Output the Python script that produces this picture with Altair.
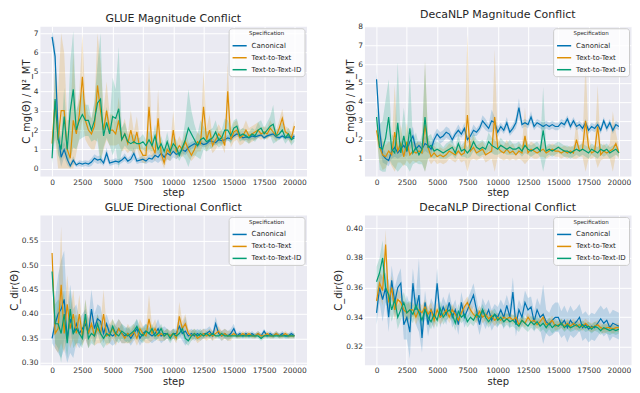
import altair as alt
import pandas as pd

STEP = 250
SPECS = ["Canonical", "Text-to-Text", "Text-to-Text-ID"]
COLORS = ["#0173B2", "#DE8F05", "#029E73"]
X_TICKS = [0, 2500, 5000, 7500, 10000, 12500, 15000, 17500, 20000]

# ---------------- GLUE Magnitude Conflict ----------------
glue_mag_can = [6.8, 5.8, 1.8, 0.6, 1.0, 0.5, 0.15, 0.45, 0.2, 0.3,
                0.25, 0.3, 0.25, 0.35, 0.55, 0.45, 0.5, 0.3, 0.8, 0.3,
                0.35, 0.4, 0.35, 0.45, 0.6, 0.4, 0.5, 0.8, 0.4, 0.45,
                0.5, 0.4, 0.55, 0.5, 0.7, 0.6, 0.8, 0.6, 0.8, 0.7,
                0.9, 0.75, 0.8, 1.0, 0.9, 1.1, 1.2, 1.3, 1.2, 1.35,
                1.25, 1.3, 1.45, 1.4, 1.35, 1.5, 1.45, 1.5, 1.6, 1.55,
                1.7, 1.8, 1.75, 1.6, 1.65, 1.6, 1.7, 1.65, 1.7, 1.75,
                1.6, 1.7, 1.75, 1.8, 1.65, 1.6, 1.7, 1.6, 1.65, 1.55,
                1.7]
glue_mag_t2t = [1.3, 3.5, 1.5, 3.0, 3.0, 1.0, 0.55, 2.5, 1.8, 2.8,
                4.75, 2.5, 2.0, 1.8, 2.2, 4.3, 3.0, 2.0, 3.0, 2.0,
                2.0, 1.8, 2.5, 1.5, 1.8, 1.3, 2.0, 1.3, 1.9, 1.0,
                0.7, 0.7, 3.2, 1.2, 0.8, 2.6, 0.8, 0.3, 1.0, 0.8,
                2.0, 0.9, 1.2, 1.0, 1.4, 1.0, 0.7, 1.0, 1.4, 1.3,
                3.2, 1.5, 2.0, 1.2, 1.5, 1.8, 1.6, 1.2, 4.0, 1.5,
                1.9, 2.0, 1.6, 1.7, 2.0, 1.7, 1.8, 1.9, 2.0, 1.8,
                1.9, 1.8, 2.1, 1.9, 1.7, 2.1, 2.6, 1.9, 1.8, 1.6,
                2.2]
glue_mag_t2tid = [0.55, 3.6, 1.5, 1.0, 2.7, 1.0, 3.0, 4.1, 2.0, 2.5,
                  2.8, 2.5, 2.5, 2.0, 2.5, 3.4, 3.6, 1.7, 2.4, 1.8,
                  2.7, 2.6, 3.1, 1.5, 1.8, 1.4, 1.3, 1.4, 1.3, 1.3,
                  1.4, 1.2, 1.5, 1.2, 1.7, 1.0, 1.3, 0.9, 1.4, 0.9,
                  1.3, 1.1, 0.7, 1.1, 1.5, 2.1, 1.8, 1.5, 1.2, 1.5,
                  1.6, 1.4, 1.5, 1.6, 1.9, 1.5, 1.6, 2.0, 2.0, 1.7,
                  2.1, 2.2, 1.7, 1.8, 1.7, 1.6, 1.8, 1.7, 2.0, 2.1,
                  1.8, 2.0, 2.2, 2.3, 1.7, 1.8, 2.0, 1.6, 1.8, 1.5,
                  1.6]
glue_mag_can_ci = [0.3, 0.6, 1.0, 0.5, 0.4, 0.3, 0.15, 0.2, 0.1, 0.15,
                   0.15, 0.15, 0.15, 0.2, 0.2, 0.2, 0.2, 0.15, 0.3, 0.15,
                   0.15, 0.15, 0.15, 0.15, 0.2, 0.15, 0.2, 0.3, 0.15, 0.15,
                   0.2, 0.15, 0.2, 0.2, 0.3, 0.3, 0.35, 0.3, 0.3, 0.3,
                   0.3, 0.25, 0.2, 0.2, 0.2, 0.2, 0.2, 0.15, 0.15, 0.15,
                   0.15, 0.15, 0.15, 0.15, 0.15, 0.15, 0.15, 0.15, 0.15, 0.15,
                   0.15, 0.15, 0.15, 0.15, 0.15, 0.15, 0.15, 0.15, 0.1, 0.1,
                   0.1, 0.1, 0.1, 0.1, 0.1, 0.1, 0.1, 0.1, 0.1, 0.1,
                   0.1]
glue_mag_t2t_ci = [0.3, 2.0, 2.5, 4.0, 3.0, 1.5, 2.0, 3.5, 1.0, 1.2,
                   2.2, 1.0, 0.8, 0.8, 1.2, 2.7, 2.5, 1.0, 1.5, 0.8,
                   0.8, 0.6, 1.2, 0.6, 0.8, 0.5, 1.0, 0.6, 0.8, 0.5,
                   0.4, 0.4, 2.3, 0.6, 0.4, 1.5, 0.4, 0.3, 0.5, 0.4,
                   1.0, 0.4, 0.5, 0.4, 0.5, 0.4, 0.3, 0.4, 0.5, 0.4,
                   1.9, 0.6, 0.8, 0.4, 0.5, 0.5, 0.4, 0.4, 1.5, 0.4,
                   0.5, 0.5, 0.4, 0.4, 0.5, 0.4, 0.4, 0.4, 0.4, 0.3,
                   0.3, 0.3, 0.4, 0.3, 0.3, 0.4, 0.5, 0.3, 0.3, 0.3,
                   0.3]
glue_mag_t2tid_ci = [0.3, 2.0, 0.8, 0.6, 1.5, 0.6, 2.5, 3.0, 1.0, 1.0,
                     1.2, 0.8, 0.8, 0.6, 1.0, 2.0, 3.4, 0.6, 0.8, 0.6,
                     2.0, 1.5, 3.2, 0.6, 0.6, 0.4, 0.4, 0.4, 0.3, 0.3,
                     0.4, 0.3, 0.5, 0.3, 0.6, 0.3, 0.4, 0.3, 0.5, 0.3,
                     0.4, 0.4, 0.3, 0.4, 1.0, 2.0, 1.2, 0.8, 0.6, 1.0,
                     0.6, 0.5, 0.5, 0.5, 0.6, 0.4, 0.4, 0.6, 0.5, 0.4,
                     0.4, 0.4, 0.3, 0.3, 0.3, 0.3, 0.3, 0.3, 0.4, 0.4,
                     0.3, 0.4, 0.5, 1.0, 0.3, 0.3, 0.4, 0.3, 0.3, 0.3,
                     0.2]

# ---------------- DecaNLP Magnitude Conflict ----------------
deca_mag_can = [5.2, 2.5, 1.2, 1.0, 0.9, 1.4, 1.6, 1.3, 1.5, 1.7,
                1.4, 1.9, 2.2, 1.5, 1.7, 1.5, 1.8, 1.7, 1.5, 2.0,
                2.3, 2.1, 2.2, 2.4, 2.3, 2.0, 2.3, 2.5, 2.3, 2.6,
                2.0, 2.2, 2.5, 2.4, 2.6, 3.0, 2.8, 2.6, 3.0, 2.9,
                2.4, 2.7, 2.5, 2.9, 2.4, 2.6, 2.9, 3.7, 2.8, 2.9,
                2.8, 3.2, 2.7, 2.9, 2.8, 2.7, 2.8, 2.7, 2.8, 2.7,
                2.7, 2.9, 2.8, 3.1, 2.7, 3.0, 2.7, 2.8, 2.6, 2.9,
                2.5, 2.7, 2.6, 2.8, 2.5, 3.0, 2.6, 2.9, 2.5, 2.8,
                2.7]
deca_mag_t2t = [2.5, 1.6, 1.2, 1.1, 1.4, 1.2, 2.4, 1.4, 1.8, 1.1,
                1.9, 1.2, 1.4, 1.3, 1.4, 1.3, 2.8, 1.6, 1.1, 1.3,
                1.1, 1.2, 1.1, 1.2, 1.4, 1.3, 1.2, 1.4, 1.2, 1.3,
                3.3, 1.4, 1.6, 1.3, 1.4, 1.5, 1.2, 1.3, 1.4, 3.2,
                1.6, 1.4, 1.3, 1.5, 1.3, 1.4, 1.2, 1.4, 1.3, 2.2,
                1.3, 1.5, 1.4, 1.3, 1.4, 1.5, 1.3, 1.4, 1.5, 1.4,
                1.4, 1.3, 1.4, 1.3, 1.4, 1.3, 2.0, 1.4, 1.5, 3.0,
                1.6, 1.3, 1.4, 2.7, 1.2, 1.4, 1.3, 1.4, 1.5, 1.8,
                1.3]
deca_mag_t2tid = [3.2, 1.6, 1.5, 2.1, 3.2, 1.5, 1.3, 2.9, 1.3, 2.2,
                  1.4, 2.6, 1.3, 1.6, 1.2, 1.5, 3.2, 1.6, 1.7, 1.4,
                  1.5, 1.4, 1.3, 1.4, 1.5, 1.6, 1.3, 1.8, 1.4, 1.5,
                  1.3, 1.5, 1.9, 1.6, 1.5, 1.6, 1.5, 1.9, 1.7, 1.6,
                  1.5, 1.7, 1.6, 1.5, 1.6, 1.5, 1.5, 1.6, 1.4, 1.7,
                  1.5, 1.4, 1.5, 1.6, 1.4, 2.5, 1.4, 1.5, 1.4, 1.5,
                  1.6, 1.5, 1.4, 1.4, 1.3, 1.4, 1.5, 1.4, 1.5, 1.4,
                  1.3, 1.5, 1.4, 1.3, 1.5, 1.4, 1.5, 1.3, 1.4, 1.5,
                  1.3]
deca_mag_can_ci = [0.4, 0.8, 0.4, 0.3, 0.3, 0.4, 0.5, 0.3, 0.4, 0.5,
                   0.3, 0.4, 0.5, 0.3, 0.3, 0.3, 0.4, 0.4, 0.3, 0.3,
                   0.3, 0.3, 0.3, 0.3, 0.3, 0.2, 0.2, 0.3, 0.2, 0.3,
                   0.2, 0.2, 0.3, 0.2, 0.2, 0.3, 0.3, 0.2, 0.6, 0.3,
                   0.3, 0.2, 0.2, 0.3, 0.2, 0.2, 0.3, 0.5, 0.2, 0.2,
                   0.2, 0.3, 0.2, 0.2, 0.2, 0.2, 0.2, 0.2, 0.2, 0.2,
                   0.2, 0.2, 0.2, 0.2, 0.2, 0.2, 0.2, 0.2, 0.2, 0.2,
                   0.2, 0.2, 0.2, 0.2, 0.2, 0.2, 0.2, 0.2, 0.2, 0.2,
                   0.2]
deca_mag_t2t_ci = [0.5, 0.8, 0.8, 0.6, 0.5, 0.6, 2.5, 0.6, 1.0, 0.5,
                   1.0, 0.5, 0.5, 0.5, 0.5, 0.5, 3.4, 0.6, 0.4, 0.4,
                   0.4, 0.4, 0.4, 0.4, 0.4, 0.4, 0.4, 0.4, 0.4, 0.4,
                   4.3, 0.5, 0.6, 0.4, 0.4, 0.4, 0.4, 0.4, 0.4, 3.6,
                   0.5, 0.4, 0.4, 0.5, 0.4, 0.4, 0.3, 0.4, 0.4, 1.5,
                   0.4, 0.4, 0.4, 0.3, 0.3, 0.4, 0.3, 0.3, 0.3, 0.3,
                   0.3, 0.3, 0.3, 0.3, 0.3, 0.3, 1.0, 0.3, 0.4, 3.2,
                   0.6, 0.3, 0.3, 2.2, 0.3, 0.4, 0.3, 0.4, 2.0, 0.6,
                   0.3]
deca_mag_t2tid_ci = [0.5, 1.2, 1.5, 2.0, 2.0, 0.8, 0.8, 3.2, 0.8, 1.5,
                     0.8, 3.0, 0.6, 0.8, 0.5, 0.8, 2.9, 0.6, 0.6, 0.4,
                     0.4, 0.4, 0.3, 0.4, 0.4, 0.4, 0.3, 0.5, 0.3, 0.4,
                     0.3, 0.4, 0.5, 0.4, 0.4, 0.4, 0.3, 0.5, 0.4, 0.4,
                     0.3, 0.4, 0.3, 0.3, 0.4, 0.3, 0.3, 0.3, 0.3, 0.4,
                     0.3, 0.3, 0.3, 0.3, 0.3, 2.3, 0.3, 0.3, 0.3, 0.3,
                     0.3, 0.3, 0.3, 0.3, 0.3, 0.3, 0.3, 0.3, 0.3, 0.3,
                     0.3, 0.3, 0.3, 0.3, 0.3, 0.3, 0.3, 0.3, 0.3, 0.3,
                     0.2]

# ---------------- GLUE Directional Conflict ----------------
glue_dir_can = [0.35, 0.38, 0.40, 0.41, 0.43, 0.35, 0.39, 0.36, 0.38, 0.36,
                0.37, 0.38, 0.36, 0.41, 0.37, 0.39, 0.385, 0.36, 0.38, 0.36,
                0.355, 0.36, 0.37, 0.36, 0.355, 0.36, 0.35, 0.36, 0.37, 0.35,
                0.36, 0.365, 0.36, 0.355, 0.36, 0.37, 0.355, 0.36, 0.36, 0.355,
                0.36, 0.36, 0.375, 0.36, 0.365, 0.355, 0.36, 0.355, 0.36, 0.355,
                0.36, 0.36, 0.365, 0.355, 0.38, 0.36, 0.355, 0.36, 0.355, 0.36,
                0.37, 0.355, 0.36, 0.355, 0.36, 0.355, 0.36, 0.355, 0.36, 0.355,
                0.365, 0.355, 0.36, 0.355, 0.36, 0.355, 0.36, 0.355, 0.355, 0.36,
                0.355]
glue_dir_t2t = [0.525, 0.36, 0.37, 0.46, 0.36, 0.42, 0.37, 0.40, 0.36, 0.40,
                0.355, 0.39, 0.36, 0.38, 0.355, 0.37, 0.36, 0.40, 0.355, 0.36,
                0.37, 0.355, 0.37, 0.36, 0.35, 0.36, 0.355, 0.365, 0.35, 0.37,
                0.36, 0.355, 0.39, 0.36, 0.37, 0.355, 0.36, 0.355, 0.36, 0.355,
                0.36, 0.35, 0.395, 0.37, 0.38, 0.36, 0.355, 0.36, 0.35, 0.355,
                0.36, 0.355, 0.36, 0.355, 0.36, 0.365, 0.355, 0.36, 0.355, 0.355,
                0.36, 0.355, 0.355, 0.36, 0.355, 0.36, 0.355, 0.355, 0.36, 0.355,
                0.355, 0.36, 0.355, 0.355, 0.36, 0.355, 0.355, 0.36, 0.355, 0.355,
                0.355]
glue_dir_t2tid = [0.487, 0.38, 0.38, 0.36, 0.40, 0.34, 0.41, 0.36, 0.37, 0.36,
                  0.35, 0.40, 0.35, 0.36, 0.355, 0.38, 0.36, 0.35, 0.36, 0.355,
                  0.375, 0.36, 0.355, 0.365, 0.36, 0.355, 0.36, 0.365, 0.375, 0.36,
                  0.355, 0.365, 0.36, 0.37, 0.355, 0.36, 0.37, 0.355, 0.36, 0.35,
                  0.36, 0.355, 0.36, 0.37, 0.35, 0.345, 0.355, 0.36, 0.355, 0.36,
                  0.355, 0.36, 0.355, 0.36, 0.355, 0.355, 0.36, 0.355, 0.355, 0.355,
                  0.355, 0.355, 0.355, 0.355, 0.355, 0.355, 0.355, 0.355, 0.355, 0.35,
                  0.355, 0.355, 0.355, 0.355, 0.355, 0.355, 0.355, 0.355, 0.355, 0.355,
                  0.355]
glue_dir_can_ci = [0.01, 0.05, 0.08, 0.1, 0.1, 0.06, 0.07, 0.05, 0.04, 0.03,
                   0.03, 0.03, 0.03, 0.04, 0.03, 0.03, 0.03, 0.02, 0.02, 0.02,
                   0.02, 0.02, 0.02, 0.02, 0.015, 0.015, 0.015, 0.015, 0.02, 0.015,
                   0.015, 0.015, 0.015, 0.015, 0.015, 0.02, 0.015, 0.015, 0.01, 0.01,
                   0.01, 0.01, 0.02, 0.015, 0.03, 0.01, 0.01, 0.01, 0.01, 0.01,
                   0.01, 0.01, 0.01, 0.01, 0.015, 0.01, 0.01, 0.01, 0.01, 0.01,
                   0.01, 0.005, 0.005, 0.005, 0.005, 0.005, 0.005, 0.005, 0.005, 0.005,
                   0.005, 0.005, 0.005, 0.005, 0.005, 0.005, 0.005, 0.005, 0.005, 0.005,
                   0.005]
glue_dir_t2t_ci = [0.01, 0.03, 0.05, 0.12, 0.04, 0.06, 0.04, 0.05, 0.03, 0.04,
                   0.02, 0.04, 0.03, 0.03, 0.02, 0.03, 0.02, 0.05, 0.02, 0.02,
                   0.02, 0.02, 0.02, 0.02, 0.01, 0.02, 0.015, 0.015, 0.015, 0.02,
                   0.015, 0.015, 0.05, 0.015, 0.02, 0.01, 0.015, 0.01, 0.01, 0.01,
                   0.01, 0.01, 0.03, 0.015, 0.02, 0.01, 0.01, 0.01, 0.01, 0.01,
                   0.01, 0.01, 0.01, 0.01, 0.01, 0.01, 0.01, 0.01, 0.01, 0.01,
                   0.005, 0.005, 0.005, 0.005, 0.005, 0.005, 0.005, 0.005, 0.005, 0.005,
                   0.005, 0.005, 0.005, 0.005, 0.005, 0.005, 0.005, 0.005, 0.005, 0.005,
                   0.005]
glue_dir_t2tid_ci = [0.01, 0.04, 0.05, 0.06, 0.05, 0.03, 0.04, 0.03, 0.03, 0.02,
                     0.02, 0.03, 0.02, 0.02, 0.02, 0.02, 0.02, 0.02, 0.02, 0.015,
                     0.015, 0.015, 0.015, 0.015, 0.015, 0.015, 0.015, 0.015, 0.015, 0.015,
                     0.015, 0.015, 0.01, 0.01, 0.01, 0.01, 0.01, 0.01, 0.01, 0.01,
                     0.01, 0.01, 0.01, 0.01, 0.01, 0.01, 0.01, 0.01, 0.01, 0.01,
                     0.005, 0.005, 0.005, 0.005, 0.005, 0.005, 0.005, 0.005, 0.005, 0.005,
                     0.005, 0.005, 0.005, 0.005, 0.005, 0.005, 0.005, 0.005, 0.005, 0.005,
                     0.005, 0.005, 0.005, 0.005, 0.005, 0.005, 0.005, 0.005, 0.005, 0.005,
                     0.005]

# ---------------- DecaNLP Directional Conflict ----------------
deca_dir_can = [0.343, 0.36, 0.352, 0.36, 0.34, 0.365, 0.35, 0.36, 0.363, 0.335,
                0.34, 0.33, 0.363, 0.345, 0.355, 0.326, 0.35, 0.335, 0.345, 0.34,
                0.363, 0.34, 0.347, 0.342, 0.35, 0.34, 0.345, 0.335, 0.35, 0.34,
                0.345, 0.35, 0.355, 0.345, 0.335, 0.345, 0.34, 0.345, 0.338, 0.342,
                0.34, 0.345, 0.34, 0.348, 0.34, 0.357, 0.335, 0.345, 0.34, 0.35,
                0.345, 0.347, 0.337, 0.345, 0.34, 0.342, 0.337, 0.335, 0.338, 0.34,
                0.34, 0.335, 0.338, 0.333, 0.338, 0.335, 0.337, 0.34, 0.333, 0.335,
                0.332, 0.334, 0.333, 0.336, 0.339, 0.336, 0.338, 0.333, 0.336, 0.335,
                0.334]
deca_dir_t2t = [0.351, 0.363, 0.358, 0.389, 0.35, 0.36, 0.345, 0.352, 0.35, 0.345,
                0.343, 0.345, 0.345, 0.34, 0.345, 0.343, 0.347, 0.342, 0.345, 0.338,
                0.345, 0.34, 0.342, 0.345, 0.34, 0.345, 0.342, 0.338, 0.343, 0.347,
                0.35, 0.345, 0.342, 0.34, 0.344, 0.34, 0.342, 0.339, 0.341, 0.338,
                0.34, 0.338, 0.34, 0.339, 0.34, 0.338, 0.34, 0.335, 0.338, 0.336,
                0.34, 0.337, 0.338, 0.335, 0.337, 0.34, 0.335, 0.336, 0.338, 0.334,
                0.335, 0.336, 0.334, 0.336, 0.334, 0.336, 0.334, 0.335, 0.334, 0.336,
                0.334, 0.333, 0.334, 0.335, 0.333, 0.332, 0.333, 0.333, 0.332, 0.333,
                0.333]
deca_dir_t2tid = [0.364, 0.37, 0.38, 0.36, 0.355, 0.345, 0.352, 0.34, 0.345, 0.35,
                  0.343, 0.345, 0.342, 0.348, 0.343, 0.338, 0.345, 0.34, 0.337, 0.342,
                  0.338, 0.346, 0.34, 0.343, 0.345, 0.342, 0.336, 0.344, 0.34, 0.342,
                  0.337, 0.34, 0.338, 0.342, 0.34, 0.345, 0.34, 0.337, 0.34, 0.342,
                  0.338, 0.34, 0.337, 0.339, 0.337, 0.338, 0.336, 0.334, 0.338, 0.336,
                  0.334, 0.337, 0.335, 0.337, 0.334, 0.336, 0.333, 0.336, 0.333, 0.335,
                  0.334, 0.336, 0.333, 0.335, 0.333, 0.334, 0.335, 0.333, 0.335, 0.333,
                  0.334, 0.332, 0.334, 0.333, 0.331, 0.333, 0.332, 0.331, 0.332, 0.331,
                  0.332]
deca_dir_can_ci = [0.008, 0.01, 0.015, 0.01, 0.01, 0.01, 0.01, 0.008, 0.01, 0.01,
                   0.015, 0.018, 0.01, 0.01, 0.025, 0.01, 0.008, 0.008, 0.008, 0.008,
                   0.01, 0.007, 0.007, 0.007, 0.007, 0.007, 0.007, 0.007, 0.007, 0.007,
                   0.007, 0.007, 0.008, 0.008, 0.007, 0.008, 0.008, 0.007, 0.007, 0.007,
                   0.007, 0.007, 0.008, 0.007, 0.008, 0.01, 0.008, 0.007, 0.007, 0.008,
                   0.008, 0.007, 0.007, 0.008, 0.008, 0.02, 0.008, 0.008, 0.01, 0.01,
                   0.01, 0.009, 0.01, 0.01, 0.01, 0.009, 0.009, 0.009, 0.009, 0.009,
                   0.009, 0.009, 0.009, 0.009, 0.009, 0.009, 0.009, 0.009, 0.009, 0.009,
                   0.009]
deca_dir_t2t_ci = [0.008, 0.008, 0.01, 0.01, 0.008, 0.008, 0.007, 0.007, 0.006, 0.006,
                   0.006, 0.005, 0.005, 0.005, 0.005, 0.005, 0.005, 0.005, 0.005, 0.005,
                   0.005, 0.005, 0.004, 0.004, 0.004, 0.004, 0.004, 0.004, 0.004, 0.004,
                   0.004, 0.004, 0.004, 0.004, 0.004, 0.004, 0.004, 0.004, 0.004, 0.004,
                   0.003, 0.003, 0.003, 0.003, 0.003, 0.003, 0.003, 0.003, 0.003, 0.003,
                   0.003, 0.003, 0.003, 0.003, 0.003, 0.003, 0.003, 0.003, 0.003, 0.003,
                   0.003, 0.003, 0.003, 0.003, 0.003, 0.003, 0.003, 0.003, 0.003, 0.003,
                   0.003, 0.003, 0.003, 0.003, 0.003, 0.003, 0.003, 0.003, 0.003, 0.003,
                   0.003]
deca_dir_t2tid_ci = [0.01, 0.01, 0.012, 0.01, 0.01, 0.008, 0.008, 0.008, 0.007, 0.007,
                     0.007, 0.006, 0.006, 0.006, 0.006, 0.006, 0.006, 0.005, 0.005, 0.005,
                     0.005, 0.005, 0.005, 0.005, 0.005, 0.005, 0.005, 0.005, 0.004, 0.004,
                     0.004, 0.004, 0.004, 0.004, 0.004, 0.004, 0.004, 0.004, 0.004, 0.004,
                     0.004, 0.004, 0.004, 0.004, 0.004, 0.004, 0.004, 0.004, 0.004, 0.004,
                     0.004, 0.004, 0.004, 0.004, 0.004, 0.004, 0.004, 0.004, 0.004, 0.004,
                     0.003, 0.003, 0.003, 0.003, 0.003, 0.003, 0.003, 0.003, 0.003, 0.003,
                     0.003, 0.003, 0.003, 0.003, 0.003, 0.003, 0.003, 0.003, 0.003, 0.003,
                     0.003]


def frame(means, cis, floor):
    rows = []
    for spec, m, c in zip(SPECS, means, cis):
        assert len(m) == 81 and len(c) == 81, (spec, len(m), len(c))
        for i, (v, w) in enumerate(zip(m, c)):
            rows.append({"step": i * STEP, "spec": spec, "mean": v,
                         "lo": max(v - w, floor), "hi": v + w})
    return pd.DataFrame(rows)


FONT = "DejaVu Sans"
W, H = 267, 150


def panel(df, title, ytitle, domain, yticks, yfmt):
    x = alt.X("step:Q",
              scale=alt.Scale(domain=[-1000, 21000], nice=False, zero=False),
              axis=alt.Axis(values=X_TICKS, format="d", title="step"))
    yscale = alt.Scale(domain=domain, nice=False, zero=False)
    yaxis = alt.Axis(values=yticks, format=yfmt, title=ytitle)
    cscale = alt.Scale(domain=SPECS, range=COLORS)
    leg = alt.Legend(title="Specification", orient="top-right")
    band = alt.Chart(df).mark_area(fillOpacity=0.2, clip=True).encode(
        x=x,
        y=alt.Y("lo:Q", scale=yscale, stack=None, axis=yaxis),
        y2="hi:Q",
        color=alt.Color("spec:N", scale=cscale, legend=leg),
    )
    line = alt.Chart(df).mark_line(strokeWidth=1.2, clip=True).encode(
        x=x,
        y=alt.Y("mean:Q", scale=yscale, axis=yaxis),
        color=alt.Color("spec:N", scale=cscale, legend=leg),
    )
    return alt.layer(band, line).properties(
        width=W, height=H,
        title=alt.TitleParams(title, fontSize=11, fontWeight="normal",
                              font=FONT, color="#262626", offset=2))


p1 = panel(frame([glue_mag_can, glue_mag_t2t, glue_mag_t2tid],
                 [glue_mag_can_ci, glue_mag_t2t_ci, glue_mag_t2tid_ci], 0.02),
           "GLUE Magnitude Conflict", "C_mg(Θ) / N²_MT",
           [-0.37, 7.35], [0, 1, 2, 3, 4, 5, 6, 7], "d")
p2 = panel(frame([deca_mag_can, deca_mag_t2t, deca_mag_t2tid],
                 [deca_mag_can_ci, deca_mag_t2t_ci, deca_mag_t2tid_ci], 0.3),
           "DecaNLP Magnitude Conflict", "C_mg(Θ) / N²_MT",
           [0.08, 8.0], [1, 2, 3, 4, 5, 6, 7, 8], "d")
p3 = panel(frame([glue_dir_can, glue_dir_t2t, glue_dir_t2tid],
                 [glue_dir_can_ci, glue_dir_t2t_ci, glue_dir_t2tid_ci], 0.3),
           "GLUE Directional Conflict", "C_dir(Θ)",
           [0.296, 0.603], [0.30, 0.35, 0.40, 0.45, 0.50, 0.55], ".2f")
p4 = panel(frame([deca_dir_can, deca_dir_t2t, deca_dir_t2tid],
                 [deca_dir_can_ci, deca_dir_t2t_ci, deca_dir_t2tid_ci], 0.31),
           "DecaNLP Directional Conflict", "C_dir(Θ)",
           [0.308, 0.409], [0.32, 0.34, 0.36, 0.38, 0.40], ".2f")

chart = alt.concat(p1, p2, p3, p4, columns=2,
                   spacing={"row": 3, "column": 25}).resolve_scale(
    color="independent").resolve_legend(
    color="independent").properties(
    padding=0).configure_view(
    fill="#EAEAF2", stroke="transparent").configure_axis(
    domain=False, ticks=False, gridColor="white", gridWidth=1,
    labelColor="#333333", labelFontSize=7.5, labelPadding=2, labelFont=FONT,
    labelOverlap=False,
    titleFont=FONT, titleFontSize=10, titleFontWeight="normal",
    titleColor="#262626", titlePadding=2).configure_legend(
    offset=2, titleFontSize=5.5, titleFontWeight="normal",
    titleColor="#262626", titleAnchor="middle", titlePadding=1,
    labelFontSize=7, labelColor="#262626", symbolType="stroke",
    symbolStrokeWidth=1.5, symbolSize=200, symbolOpacity=1,
    fillColor="rgba(255,255,255,0.8)", strokeColor="#cccccc",
    cornerRadius=3, padding=3, rowPadding=1, labelFont=FONT, titleFont=FONT)

chart.save("out.html", embed_options={"renderer": "svg", "actions": False})
